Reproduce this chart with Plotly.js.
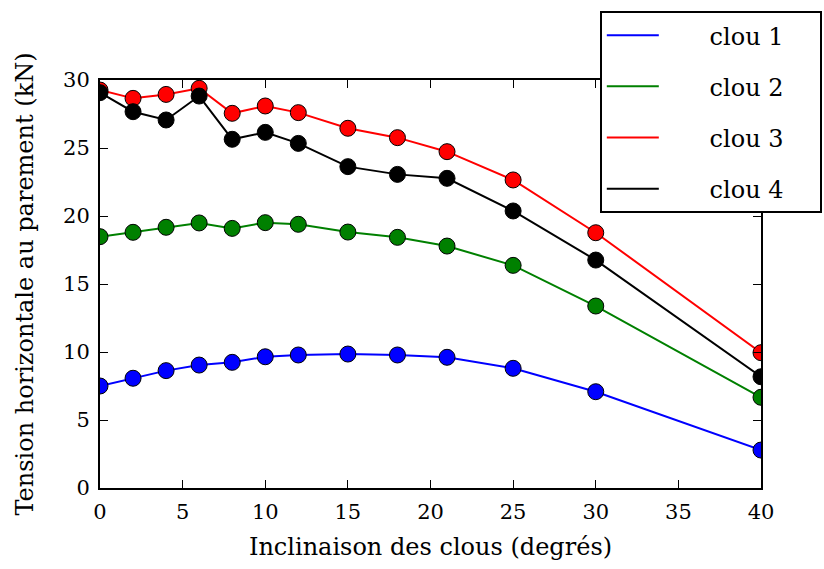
<!DOCTYPE html>
<html><head><meta charset="utf-8">
<script src="https://cdn.plot.ly/plotly-3.0.1.min.js"></script>
<style>html,body{margin:0;padding:0;background:#fff}#chart{width:824px;height:569px}</style>
</head><body><div id="chart"></div>
<script>
var angles = [0, 2, 4, 6, 8, 10, 12, 15, 18, 21, 25, 30, 40];
var clou1 = [7.5, 8.07, 8.63, 9.04, 9.24, 9.65, 9.78, 9.85, 9.78, 9.61, 8.8, 7.08, 2.79];
var clou2 = [18.48, 18.8, 19.17, 19.49, 19.09, 19.51, 19.39, 18.82, 18.43, 17.79, 16.37, 13.38, 6.67];
var clou3 = [29.26, 28.65, 28.94, 29.39, 27.55, 28.09, 27.6, 26.45, 25.76, 24.73, 22.65, 18.77, 9.95];
var clou4 = [29.07, 27.67, 27.06, 28.82, 25.64, 26.15, 25.34, 23.63, 23.06, 22.77, 20.37, 16.76, 8.18];
var seriesNames = ['clou 1', 'clou 2', 'clou 3', 'clou 4'];
var seriesColors = ['#0000ff', '#008000', '#ff0000', '#000000'];
var xTicks = [0, 5, 10, 15, 20, 25, 30, 35, 40];
var yTicks = [0, 5, 10, 15, 20, 25, 30];

var allY = [clou1, clou2, clou3, clou4];
var traces = [];
allY.forEach(function (ys, i) {
  traces.push({
    x: angles, y: ys, mode: 'lines+markers', showlegend: false,
    line: {color: seriesColors[i], width: 2},
    marker: {color: seriesColors[i], size: 16, line: {color: '#000', width: 1}}
  });
});
var padL = '\u00a0\u00a0\u00a0\u00a0\u00a0\u00a0';
var padR = '\u00a0\u00a0\u00a0\u00a0';
allY.forEach(function (ys, i) {
  traces.push({
    x: [null], y: [null], mode: 'lines', name: padL + seriesNames[i] + padR, legendgroup: 'g' + i,
    line: {color: seriesColors[i], width: 2}
  });
});

var fontFam = "'DejaVu Serif', serif";
var axisCommon = {
  showline: true, mirror: 'ticks', linecolor: '#000', linewidth: 2,
  ticks: 'inside', ticklen: 8, tickwidth: 1, tickcolor: '#000',
  showgrid: false, zeroline: false, ticklabelstandoff: 4,
  tickfont: {family: fontFam, size: 21, color: '#000'}
};
var layout = {
  width: 824, height: 569,
  margin: {l: 100, r: 63, t: 80, b: 81, autoexpand: false},
  paper_bgcolor: '#fff', plot_bgcolor: '#fff',
  font: {family: fontFam, color: '#000'},
  xaxis: Object.assign({}, axisCommon, {
    range: [0, 40], tickvals: xTicks, ticktext: xTicks.map(String),
    title: {text: 'Inclinaison des clous (degrés)', font: {family: fontFam, size: 24, color: '#000'}, standoff: 15}
  }),
  yaxis: Object.assign({}, axisCommon, {
    range: [0, 30], tickvals: yTicks, ticktext: yTicks.map(String),
    title: {text: 'Tension horizontale au parement (kN)', font: {family: fontFam, size: 24, color: '#000'}, standoff: 23}
  }),
  legend: {
    x: 1.092, y: 1.169, xanchor: 'right', yanchor: 'top',
    bgcolor: '#fff', bordercolor: '#000', borderwidth: 2,
    font: {family: fontFam, size: 24, color: '#000'},
    tracegroupgap: 17, itemwidth: 52
  },
  showlegend: true
};
Plotly.newPlot('chart', traces, layout, {displayModeBar: false, staticPlot: true});
</script></body></html>
